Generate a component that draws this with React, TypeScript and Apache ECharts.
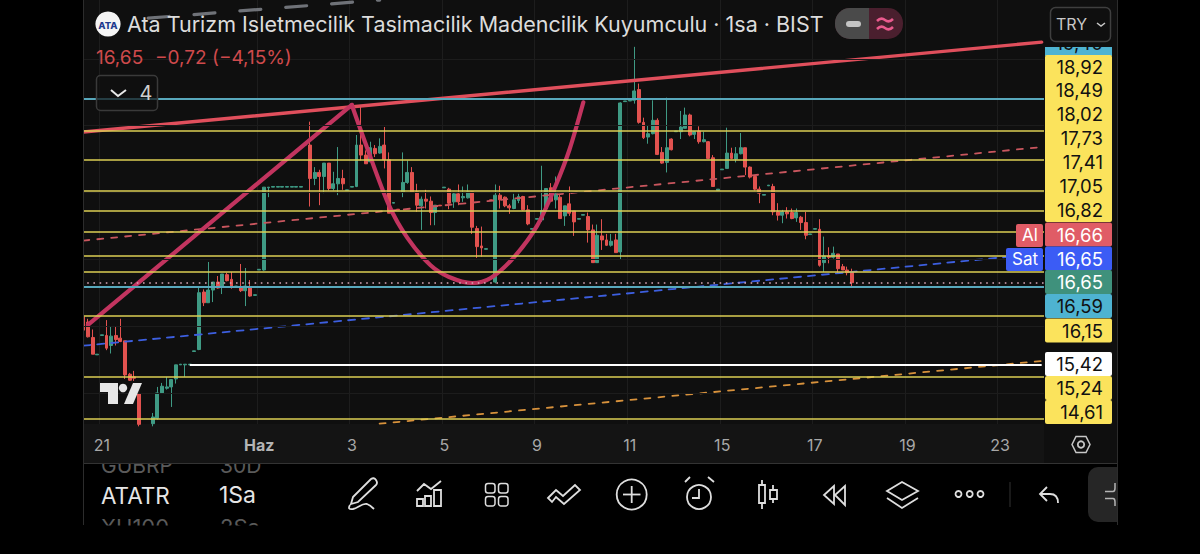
import { useEffect, useRef } from 'react';
import * as echarts from 'echarts';

// [open, close, low, high], one row per hourly bar
const candles: number[][] = [
    [16.14, 15.94, 15.89, 16.34], [16.06, 15.84, 15.83, 16.11], [15.83, 15.58, 15.58, 15.95], [15.57, 15.58, 15.57, 15.58],
    [15.86, 15.87, 15.86, 15.87], [15.86, 15.67, 15.64, 16.09], [15.71, 15.85, 15.59, 15.99], [15.86, 15.80, 15.71, 15.99],
    [15.82, 15.77, 15.76, 16.11], [15.78, 15.27, 15.21, 15.78], [15.28, 15.19, 15.18, 15.30], [15.24, 15.22, 15.18, 15.33],
    [14.99, 14.53, 14.50, 15.00], [14.45, 14.40, 14.35, 14.50], [14.40, 14.50, 14.38, 14.53], [14.54, 14.64, 14.50, 14.70],
    [14.62, 15.00, 14.60, 15.09], [15.00, 15.10, 14.99, 15.15], [15.07, 15.09, 15.05, 15.24], [15.09, 15.20, 14.79, 15.20],
    [15.21, 15.42, 15.14, 15.42], [15.42, 15.43, 15.42, 15.43], [15.42, 15.43, 15.24, 15.43], [15.42, 15.43, 15.42, 15.43],
    [15.62, 15.63, 15.62, 15.63], [15.65, 16.50, 15.64, 16.59], [16.51, 16.35, 16.30, 16.55], [16.35, 16.54, 16.35, 16.96],
    [16.54, 16.66, 16.36, 16.66], [16.66, 16.57, 16.56, 16.75], [16.58, 16.78, 16.48, 16.78], [16.77, 16.68, 16.67, 16.80],
    [16.70, 16.59, 16.56, 16.81], [16.59, 16.60, 16.59, 16.60], [16.59, 16.53, 16.51, 16.93], [16.53, 16.60, 16.30, 16.87],
    [16.58, 16.45, 16.44, 16.69], [16.46, 16.47, 16.46, 16.47], [16.84, 16.85, 16.84, 16.85], [16.84, 18.08, 16.83, 18.08],
    [18.07, 18.08, 17.93, 18.08], [18.08, 18.09, 18.08, 18.09], [18.08, 18.09, 18.08, 18.09], [18.08, 18.09, 18.08, 18.09],
    [18.08, 18.09, 18.08, 18.09], [18.08, 18.09, 18.08, 18.09], [18.08, 18.09, 18.08, 18.09], [18.08, 18.09, 18.08, 18.09],
    [18.71, 18.72, 18.71, 18.72], [18.71, 18.21, 17.79, 19.06], [18.21, 18.30, 18.11, 18.38], [18.30, 18.24, 17.81, 18.34],
    [18.24, 18.44, 17.99, 18.44], [18.44, 18.06, 18.03, 18.44], [18.06, 18.13, 18.03, 18.31], [18.13, 18.21, 17.96, 18.68],
    [18.21, 18.13, 18.04, 18.34], [18.03, 18.04, 18.03, 18.04], [18.08, 18.09, 18.08, 18.09], [18.09, 18.71, 18.08, 18.86],
    [18.71, 18.56, 18.48, 19.28], [18.56, 18.43, 18.43, 18.63], [18.46, 18.67, 18.46, 18.76], [18.66, 18.58, 18.53, 18.71],
    [18.59, 18.69, 18.58, 18.81], [18.71, 18.49, 18.36, 18.98], [18.49, 17.69, 17.69, 18.60], [17.84, 17.85, 17.84, 17.85],
    [17.75, 17.74, 17.74, 17.75], [18.01, 18.15, 17.93, 18.60], [18.15, 18.30, 18.13, 18.48], [18.30, 18.01, 18.01, 18.38],
    [18.01, 17.81, 17.71, 18.13], [17.80, 17.90, 17.44, 17.94], [17.90, 17.87, 17.76, 18.04], [17.87, 17.70, 17.51, 17.94],
    [17.70, 17.81, 17.51, 17.81], [17.81, 17.80, 17.80, 17.81], [18.07, 18.08, 18.07, 18.08], [18.05, 17.84, 17.75, 18.07],
    [17.86, 17.98, 17.77, 18.01], [17.98, 17.86, 17.81, 18.12], [17.92, 17.94, 17.86, 18.09], [17.92, 18.01, 17.91, 18.12],
    [18.01, 17.48, 17.38, 18.01], [17.46, 17.19, 17.02, 17.50], [17.20, 17.17, 17.04, 17.49], [17.15, 17.16, 17.15, 17.16],
    [17.89, 17.88, 17.88, 17.89], [16.66, 17.96, 16.64, 18.12], [17.96, 17.89, 17.76, 18.10], [17.93, 17.80, 17.78, 17.94],
    [17.80, 17.77, 17.68, 17.83], [17.76, 17.89, 17.75, 17.98], [17.88, 17.94, 17.84, 17.98], [17.94, 17.74, 17.73, 17.95],
    [17.74, 17.53, 17.51, 17.81], [17.45, 17.46, 17.45, 17.46], [17.60, 17.61, 17.60, 17.61], [17.59, 17.73, 17.56, 18.40],
    [17.76, 18.06, 17.74, 18.06], [18.07, 17.87, 17.86, 18.14], [17.89, 17.98, 17.76, 18.24], [17.93, 17.61, 17.61, 17.97],
    [17.65, 17.80, 17.50, 17.80], [17.83, 17.69, 17.65, 18.09], [17.72, 17.56, 17.35, 17.72], [17.60, 17.61, 17.60, 17.61],
    [17.66, 17.67, 17.66, 17.67], [17.64, 17.44, 17.25, 17.70], [17.44, 16.95, 16.95, 17.52], [16.95, 17.36, 16.95, 17.52],
    [17.35, 17.29, 17.14, 17.60], [17.29, 17.21, 17.20, 17.38], [17.21, 17.27, 17.19, 17.38], [17.29, 17.10, 17.10, 17.38],
    [17.11, 19.34, 16.99, 19.35], [19.36, 19.37, 19.36, 19.37], [19.37, 19.38, 19.37, 19.38], [19.38, 19.52, 19.33, 20.18],
    [19.54, 19.05, 19.03, 19.63], [19.05, 18.82, 18.80, 19.12], [18.83, 18.88, 18.73, 19.01], [18.88, 19.08, 18.87, 19.38],
    [19.08, 18.57, 18.56, 19.11], [18.60, 18.44, 18.43, 18.68], [18.45, 18.67, 18.30, 19.42], [18.80, 18.64, 18.63, 18.81],
    [18.91, 18.92, 18.91, 18.92], [18.91, 18.98, 18.80, 19.22], [18.96, 19.16, 18.96, 19.27], [19.16, 18.86, 18.84, 19.18],
    [18.87, 18.91, 18.80, 18.91], [18.92, 18.76, 18.73, 18.99], [18.76, 18.79, 18.75, 18.91], [18.76, 18.51, 18.50, 18.77],
    [18.52, 18.09, 18.09, 18.56], [18.03, 18.05, 18.03, 18.05], [18.34, 18.35, 18.34, 18.35], [18.36, 18.59, 18.36, 18.97],
    [18.59, 18.51, 18.50, 18.67], [18.50, 18.58, 18.45, 18.68], [18.58, 18.67, 18.57, 18.89], [18.67, 18.38, 18.26, 18.67],
    [18.38, 18.23, 18.21, 18.39], [18.24, 18.05, 18.03, 18.25], [18.05, 17.99, 17.84, 18.09], [17.96, 17.97, 17.96, 17.97],
    [18.10, 18.11, 18.10, 18.11], [18.09, 17.71, 17.66, 18.13], [17.71, 17.66, 17.58, 17.84], [17.66, 17.71, 17.54, 17.74],
    [17.71, 17.68, 17.61, 17.78], [17.70, 17.61, 17.60, 17.76], [17.62, 17.70, 17.56, 17.76], [17.63, 17.55, 17.44, 17.65],
    [17.55, 17.36, 17.30, 17.71], [17.37, 17.38, 17.37, 17.38], [17.45, 17.46, 17.45, 17.46], [17.45, 16.91, 16.89, 17.60],
    [16.95, 17.05, 16.81, 17.34], [17.05, 17.03, 16.94, 17.18], [17.03, 17.09, 17.01, 17.19], [17.08, 16.86, 16.78, 17.08],
    [16.89, 16.84, 16.84, 16.93], [16.84, 16.80, 16.76, 16.89], [16.81, 16.65, 16.60, 16.86],
];

const slotCount = 208;
const tickIndexes = [4, 38, 58, 78, 98, 118, 138, 158, 178, 198];
const tickLabels = ['21', 'Haz', '3', '5', '9', '11', '15', '17', '19', '23'];

const yellowLevels = [18.92, 18.49, 18.02, 17.73, 17.41, 17.05, 16.82, 16.15, 15.24, 14.61];
const cyanLevels = [19.40, 16.59];
const lastPrice = 16.65;
const whiteLevel = 15.42;
const gridLevels = [15, 16, 17, 18, 19, 20];

// drawings on the chart, as [bar index, price]
const resistanceLine = [[0, 18.905], [207, 20.25]];
const redDashLine = [[0, 17.28], [207, 18.68]];
const blueDashLine = [[0, 15.707], [207, 17.085]];
const orangeDashLine = [[64, 14.54], [207, 15.478]];
const grayDashLine = [[14, 20.61], [64, 20.88]];
const riseLine = [[1, 16.02], [58, 19.31]];
const cupCurve = [
    [58, 19.31], [61, 18.725], [66, 17.81], [70, 17.32], [75, 16.91], [79, 16.735], [84, 16.645],
    [88, 16.72], [93, 17.03], [98, 17.50], [102, 18.10], [105, 18.64], [108, 19.35],
];

const yellowTags = ['18,92', '18,49', '18,02', '17,73', '17,41', '17,05', '16,82'];

const iconPaths: Record<string, string> = {
    iconPen: 'M353 497 L371 479 Q374 477 376 480 Q378 483 376 485 L358 502 L351 504 Z M350 505 Q347 510 353 509 C358 508 362 503 367 504 C370 505 372 507 374 509',
    iconBars: 'M417 491 L424 484 L431 489 L441 481 M417 506 V499 H423 V506 Z M425 506 V496 H431 V506 Z M434 506 V490 H441 V506 Z',
    iconWave: 'M548 498 L556 490 L563 496 L575 485 L580 490 L564 504 L556 497 L552 502 Z',
    iconAlarm: 'M699 489 V498 H692 M685 482 L690 477 M708 477 L714 482',
    iconCandles: 'M762 480 V485 M762 503 V509 M759 485 H765 V503 H759 Z M773 485 V490 M773 499 V503 M770 490 H777 V499 H770 Z',
    iconRewind: 'M834 486 L824 495 L834 504 Z M845 486 L835 495 L845 505 Z',
    iconLayers: 'M902 482 L918 491 L902 500 L887 491 Z M887 498 L902 508 L918 498',
    iconUndo: 'M1047 487 L1040 494 L1047 501 M1040 494 H1050 Q1058 494 1058 503',
    iconTab: 'M1105 491.5 H1113 Q1115 491.5 1115 488 V483 M1105 498.5 H1113 Q1115 498.5 1115 502 V506',
    iconApprox: 'M877 21 Q881 17 885 20 Q889 23 893 19 M877 29 Q881 25 885 28 Q889 31 893 27',
};
Object.entries(iconPaths).forEach(([name, d]) => {
    echarts.graphic.registerShape(name, echarts.graphic.extendPath(d, {}));
});

const UI_FONT = 'Inter, "Noto Sans", sans-serif';
const YELLOW_LINE = '#dccf55';
const CYAN_LINE = '#58a8bc';
const UP = '#3f9a84';
const DOWN = '#e2524f';
const PANE = '#0f0f0f';

const drawing = (data: number[][], color: string, width: number, dash?: number[], smooth?: boolean) => ({
    type: 'line',
    data,
    z: 4,
    symbol: 'none',
    smooth: smooth ? 0.3 : false,
    silent: true,
    clip: true,
    lineStyle: { color, width, type: dash || 'solid', cap: 'round' },
});

const levels = (prices: number[], color: string, width: number, type: any = 'solid') => ({
    type: 'line',
    data: [],
    silent: true,
    markLine: {
        silent: true,
        symbol: 'none',
        label: { show: false },
        animation: false,
        lineStyle: { color, width, type },
        data: prices.map((p) => ({ yAxis: p })),
    },
});

const text = (t: string, x: number, y: number, fill: string, size: number, align = 'left', weight = 400, z = 12) => ({
    type: 'text',
    x,
    y,
    z,
    silent: true,
    style: { text: t, fill, fontSize: size, fontWeight: weight, fontFamily: UI_FONT, align, verticalAlign: 'middle' },
});

const rect = (x: number, y: number, width: number, height: number, fill: string, z = 10, r: any = 0, stroke?: string) => ({
    type: 'rect',
    z,
    silent: true,
    shape: { x, y, width, height, r },
    style: { fill, stroke: stroke || 'none', lineWidth: stroke ? 1.5 : 0 },
});

const icon = (name: string, stroke = '#dedede', lineWidth = 1.8) => ({
    type: name,
    x: 0,
    y: 0,
    z: 12,
    silent: true,
    style: { fill: 'none', stroke, lineWidth },
});

const ring = (cx: number, cy: number, r: number, stroke = '#dedede') => ({
    type: 'circle',
    z: 12,
    silent: true,
    shape: { cx, cy, r },
    style: { fill: 'none', stroke, lineWidth: 1.8 },
});

const segment = (x1: number, y1: number, x2: number, y2: number, stroke = '#dedede', lineWidth = 1.8) => ({
    type: 'line',
    z: 12,
    silent: true,
    shape: { x1, y1, x2, y2 },
    style: { stroke, lineWidth },
});

const priceTag = (label: string, cy: number, bg: string, fg: string) => [
    rect(1045, cy - 12, 67, 24, bg, 11, 2),
    text(label, 1103, cy, fg, 18.5, 'right'),
];

const App = () => {
    const chartRef = useRef<HTMLDivElement>(null);

    useEffect(() => {
        if (!chartRef.current) return;
        const chart = echarts.init(chartRef.current, undefined, { renderer: 'svg' });

        const graphicElements: any[] = [
            // symbol list rows that the axis pane cuts off
            text('GUBRP', 101, 465, '#5a5a5a', 21, 'left', 400, -2),
            text('30D', 220, 465, '#5a5a5a', 21, 'left', 400, -2),

            // panes
            rect(84, 424, 1033, 39, '#141414', -1),
            rect(0, 0, 83, 554, '#000', 10),
            rect(1044, 0, 73, 463, PANE, 10),
            rect(1117, 0, 83, 554, '#000', 10),
            segment(83.5, 0, 83.5, 525, '#2c2c2c', 1),
            segment(1117.5, 0, 1117.5, 525, '#2c2c2c', 1),
            segment(84, 463.5, 1117, 463.5, '#333', 1),

            // header
            { type: 'circle', z: 12, silent: true, shape: { cx: 108, cy: 24, r: 12.6 }, style: { fill: '#f4f4f4' } },
            text('ATA', 108, 25, '#1d3a8f', 9.5, 'center', 800),
            text('Ata Turizm Isletmecilik Tasimacilik Madencilik Kuyumculu · 1sa · BIST', 127, 24, '#dcdcdc', 21.5),
            rect(835, 8, 68, 31, '#4a1f2e', 11, 15),
            rect(835, 8, 34, 31, '#4a4a4a', 11, [15, 0, 0, 15]),
            rect(846, 21, 15, 6, '#c4c4c4', 12, 3),
            icon('iconApprox', '#ea5a8e', 2.6),
            text('16,65', 96, 57, '#cf4a4c', 19),
            text('−0,72 (−4,15%)', 155, 57, '#cf4a4c', 19),
            rect(96.5, 75.5, 61, 35, 'rgba(15,15,15,0.7)', 11, 4, '#3a3a3a'),
            { type: 'polyline', z: 12, silent: true, shape: { points: [[111, 90], [118, 96], [126, 90]] }, style: { fill: 'none', stroke: '#e8e8e8', lineWidth: 2 } },
            text('4', 146, 93, '#cfcfcf', 20, 'center'),

            // watermark
            { type: 'polygon', z: 12, silent: true, shape: { points: [[100, 383], [118, 383], [118, 404], [108, 404], [108, 392], [100, 392]] }, style: { fill: '#e6e6e6' } },
            { type: 'circle', z: 12, silent: true, shape: { cx: 123, cy: 388, r: 4.2 }, style: { fill: '#e6e6e6' } },
            { type: 'polygon', z: 12, silent: true, shape: { points: [[133, 383], [142, 383], [133, 404], [124, 404]] }, style: { fill: '#e6e6e6' } },

            // price scale
            rect(1045, 46, 67, 10, '#4eb3d1', 11),
            text('19,40', 1103, 43, '#111', 18.5, 'right'),
            rect(1045, 0, 67, 47, PANE, 13),
            rect(1045, 55, 67, 167, '#fbe35c', 11, 2),
            ...yellowTags.flatMap((label, i) => [text(label, 1103, 66.5 + i * 23.9, '#111', 18.5, 'right')]),
            ...priceTag('16,66', 234.5, '#e05c66', '#fff'),
            ...priceTag('16,65', 258.5, '#3b5cf5', '#fff'),
            ...priceTag('16,65', 282, '#3f917c', '#fff'),
            ...priceTag('16,59', 306, '#4eb3d1', '#111'),
            ...priceTag('16,15', 330.5, '#fbe35c', '#111'),
            ...priceTag('15,42', 364, '#fff', '#111'),
            ...priceTag('15,24', 388, '#fbe35c', '#111'),
            ...priceTag('14,61', 412, '#fbe35c', '#111'),
            rect(1016, 224, 27, 23, '#e05c66', 11, 2),
            text('Al', 1030, 235, '#fff', 17, 'center'),
            rect(1006, 248, 37, 23, '#3b5cf5', 11, 2),
            text('Sat', 1025, 259, '#fff', 17, 'center'),
            rect(1050.5, 7.5, 60, 34, PANE, 14, 5, '#3f3f3f'),
            text('TRY', 1056, 24, '#c8c8c8', 16, 'left', 400, 15),
            { type: 'polyline', z: 15, silent: true, shape: { points: [[1097, 23], [1101, 26], [1105, 23]] }, style: { fill: 'none', stroke: '#c8c8c8', lineWidth: 1.5 } },
            { type: 'polygon', z: 12, silent: true, shape: { points: [[1072, 444.5], [1076, 436.5], [1086, 436.5], [1090, 444.5], [1086, 452.5], [1076, 452.5]] }, style: { fill: 'none', stroke: '#c8c8c8', lineWidth: 1.5 } },
            ring(1081, 444.5, 3.2, '#c8c8c8'),

            // bottom toolbar
            text('ATATR', 101, 495, '#e6e6e6', 22.5),
            text('1Sa', 219, 495, '#e6e6e6', 23),
            text('XU100', 101, 527, '#5a5a5a', 22, 'left', 400, 9),
            text('2Sa', 220, 527, '#5a5a5a', 22, 'left', 400, 9),
            rect(0, 525.5, 1200, 29, '#000', 10),
            icon('iconPen'),
            icon('iconBars'),
            rect(485.5, 483.5, 9.5, 9.5, 'none', 12, 2.5, '#dedede'),
            rect(498.5, 483.5, 9.5, 9.5, 'none', 12, 2.5, '#dedede'),
            rect(485.5, 496.5, 9.5, 9.5, 'none', 12, 2.5, '#dedede'),
            rect(498.5, 496.5, 9.5, 9.5, 'none', 12, 2.5, '#dedede'),
            icon('iconWave'),
            ring(631.7, 494.5, 15),
            segment(631.7, 486, 631.7, 503),
            segment(623, 494.5, 640.5, 494.5),
            ring(699, 497, 12),
            icon('iconAlarm'),
            icon('iconCandles'),
            icon('iconRewind'),
            icon('iconLayers'),
            ring(958.5, 494, 3),
            ring(969.7, 494, 3),
            ring(980.5, 494, 3),
            segment(1010, 482, 1010, 507, '#333', 1),
            icon('iconUndo'),
            rect(1088, 467, 29, 55, '#262626', 11, [10, 0, 0, 10]),
            icon('iconTab', '#b4b4b4', 1.5),
        ];

        const isTick = (i: number) => tickIndexes.includes(i);

        chart.setOption({
            animation: false,
            backgroundColor: '#000',
            grid: { left: 81, top: 0, width: 963, height: 424, show: true, backgroundColor: PANE, borderWidth: 0 },
            xAxis: {
                type: 'category',
                data: Array.from({ length: slotCount }, (_, i) => String(i)),
                boundaryGap: true,
                axisLine: { show: false },
                axisTick: { show: false, alignWithLabel: true, interval: (i: number) => isTick(i) },
                splitLine: { show: true, interval: (i: number) => isTick(i), lineStyle: { color: '#1d1d1d', width: 1 } },
                axisLabel: {
                    interval: (i: number) => isTick(i),
                    margin: 13,
                    color: '#a8a8a8',
                    fontSize: 16,
                    fontFamily: UI_FONT,
                    hideOverlap: false,
                    formatter: (_: string, i: number) => {
                        const label = tickLabels[tickIndexes.indexOf(i)];
                        return label === 'Haz' ? `{b|${label}}` : label;
                    },
                    rich: { b: { fontWeight: 700, color: '#b4b4b4', fontSize: 16, fontFamily: UI_FONT } },
                },
            },
            yAxis: {
                type: 'value',
                min: 14.535,
                max: 20.881,
                show: false,
                splitLine: { show: false },
            },
            series: [
                { ...levels(gridLevels, '#1c1c1c', 1), z: 1 },
                {
                    type: 'candlestick',
                    data: candles,
                    z: 2,
                    clip: true,
                    silent: true,
                    barWidth: 3.4,
                    itemStyle: { color: UP, color0: DOWN, borderColor: UP, borderColor0: DOWN, borderWidth: 1 },
                },
                { ...levels(yellowLevels, YELLOW_LINE, 1.7), z: 3 },
                { ...levels(cyanLevels, CYAN_LINE, 1.8), z: 3 },
                { ...levels([lastPrice], '#d8a6b6', 1.6, [1.6, 4.6]), z: 3 },
                {
                    type: 'line',
                    data: [],
                    z: 3,
                    silent: true,
                    markLine: {
                        silent: true,
                        symbol: 'none',
                        label: { show: false },
                        animation: false,
                        lineStyle: { color: '#ffffff', width: 2, type: 'solid' },
                        data: [[{ coord: ['23', whiteLevel] }, { coord: ['207', whiteLevel] }]],
                    },
                },
                drawing(grayDashLine, '#6f7278', 3.2, [21, 25]),
                drawing(redDashLine, '#c9565e', 1.8, [6, 8]),
                drawing(blueDashLine, '#3d5fe0', 1.8, [7, 7]),
                drawing(orangeDashLine, '#d8923c', 1.8, [6, 8]),
                drawing(resistanceLine, '#e04f5c', 3.4),
                drawing(riseLine, '#c2345f', 4.2),
                drawing(cupCurve, '#c2345f', 4.2, undefined, true),
            ],
            graphic: { elements: graphicElements },
        });

        return () => {
            chart.dispose();
        };
    }, []);

    return (
        <div style={{ position: 'fixed', left: 0, top: 0, width: 1200, height: 554, background: '#000' }}>
            <div ref={chartRef} style={{ width: 1200, height: 554 }} />
        </div>
    );
};

export default App;
